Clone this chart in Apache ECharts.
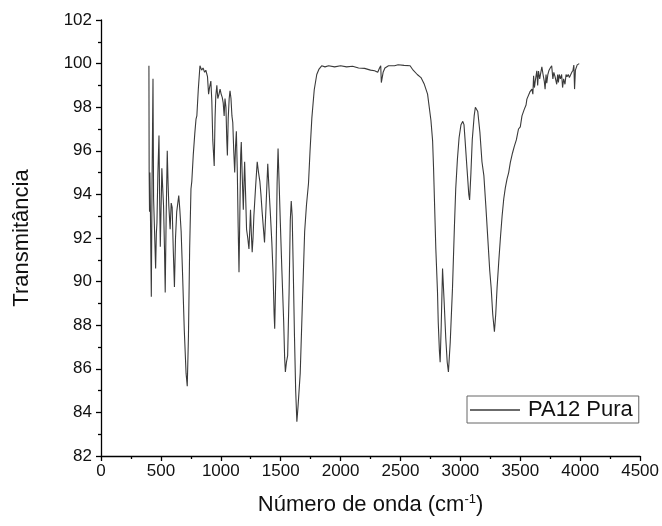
<!DOCTYPE html>
<html>
<head>
<meta charset="utf-8">
<script src="https://cdn.jsdelivr.net/npm/echarts@6/dist/echarts.min.js"></script>
<style>
html,body{margin:0;padding:0;background:#fff;}
#chart{width:662px;height:526px;}
</style>
</head>
<body>
<div id="chart"></div>
<script>
// Wavenumber (cm-1) and transmittance values
const wavenumber = [400,402,405,408,412,420,426,434,439,446,456,462,467,475,484,489,495,502,508,515,522,530,536,544,553,560,566,577,586,594,603,613,622,632,640,649,658,669,680,695,710,720,730,740,751,758,770,783,793,800,812,826,840,852,865,875,889,898,906,917,925,933,945,952,958,967,975,985,994,1003,1012,1020,1028,1035,1043,1050,1055,1062,1070,1077,1085,1093,1100,1108,1116,1123,1130,1138,1145,1152,1160,1166,1171,1178,1188,1194,1199,1207,1215,1225,1235,1242,1248,1255,1262,1269,1276,1290,1304,1315,1326,1335,1345,1355,1365,1378,1392,1402,1415,1426,1436,1445,1450,1460,1470,1478,1487,1497,1510,1525,1533,1539,1548,1558,1570,1580,1588,1596,1605,1615,1625,1635,1645,1663,1680,1700,1715,1732,1745,1760,1780,1801,1820,1842,1870,1900,1950,2000,2050,2100,2150,2200,2250,2284,2310,2325,2335,2340,2348,2355,2370,2400,2450,2480,2530,2580,2600,2640,2671,2699,2726,2740,2754,2768,2776,2795,2809,2815,2825,2831,2840,2851,2865,2878,2890,2900,2915,2934,2950,2961,2975,2989,3005,3020,3030,3039,3055,3070,3077,3088,3099,3115,3125,3135,3145,3163,3180,3196,3212,3229,3245,3257,3270,3284,3295,3306,3320,3334,3348,3362,3375,3389,3403,3417,3435,3450,3467,3485,3500,3514,3525,3533,3548,3555,3565,3580,3597,3605,3611,3618,3625,3638,3645,3652,3662,3670,3680,3690,3700,3707,3715,3721,3730,3740,3750,3762,3772,3780,3790,3804,3812,3818,3825,3835,3845,3853,3862,3873,3882,3890,3900,3910,3920,3930,3940,3947,3953,3960,3975,3985,3992];
const transmittance = [99.9,95.0,93.2,95.0,93.5,89.3,94.5,99.3,93.8,92.5,90.6,92.2,92.7,95.0,96.7,94.0,91.6,93.5,95.2,94.3,93.5,91.5,89.5,93.0,96.0,94.5,93.5,92.4,93.6,93.4,91.5,89.75,92.0,93.2,93.2,93.95,93.3,92.3,90.5,87.8,85.8,85.2,87.5,91.5,94.25,94.6,95.8,96.8,97.45,97.6,98.8,99.9,99.7,99.8,99.6,99.7,99.4,98.6,98.9,99.2,98.3,96.5,95.3,97.5,98.5,99.0,98.4,98.6,98.83,98.6,98.45,98.2,97.6,98.4,98.0,96.5,95.78,97.5,98.4,98.75,98.4,97.6,97.3,96.0,95.0,96.2,96.9,95.0,92.5,90.43,93.5,95.8,96.4,95.0,93.3,94.6,95.5,94.0,92.4,92.0,91.5,92.4,93.3,92.2,91.35,92.0,93.0,94.3,95.5,95.0,94.6,94.0,93.2,92.5,91.8,93.5,95.4,94.3,93.0,91.8,90.43,88.5,87.84,90.5,94.5,96.1,94.5,92.7,90.5,88.15,86.5,85.86,86.3,86.6,89.5,92.8,93.7,93.0,90.5,87.5,85.0,83.57,84.3,85.8,88.8,92.3,93.5,94.5,96.0,97.5,98.8,99.5,99.75,99.9,99.85,99.9,99.85,99.9,99.85,99.88,99.8,99.78,99.7,99.67,99.6,99.8,99.9,99.13,99.2,99.6,99.8,99.9,99.9,99.95,99.92,99.9,99.74,99.5,99.36,99.05,98.6,98.0,97.4,96.46,95.2,91.5,89.5,88.15,86.8,86.3,88.0,90.6,89.0,87.4,86.3,85.86,87.2,89.7,92.5,94.25,95.6,96.6,97.2,97.35,97.2,96.5,95.2,94.0,93.75,95.0,96.5,97.6,98.0,98.06,97.8,96.84,95.5,94.86,93.5,91.96,90.5,89.7,88.5,87.7,88.5,89.7,90.9,92.0,93.0,93.8,94.3,94.7,95.0,95.47,95.9,96.2,96.5,97.0,97.1,97.6,97.6,97.9,98.1,98.37,98.3,98.7,98.83,98.6,99.44,98.9,99.2,99.67,99.0,99.66,99.3,99.55,99.85,99.5,99.2,98.83,99.5,99.1,99.5,99.7,99.8,99.9,99.3,99.6,99.4,99.05,99.5,99.13,99.5,99.3,99.5,98.9,99.3,99.05,99.5,99.4,99.5,99.36,99.4,99.6,99.7,99.93,98.83,99.7,99.94,99.9,100.0];
const seriesName = 'PA12 Pura';
const xTicks = {min: 0, max: 4500, interval: 500};
const yTicks = {min: 82, max: 102, interval: 2};

const points = wavenumber.map((w, i) => [w, transmittance[i]]);
const font = '"Liberation Sans", Arial, sans-serif';

const chart = echarts.init(document.getElementById('chart'), null, {renderer: 'canvas'});
chart.setOption({
  animation: false,
  backgroundColor: '#ffffff',
  grid: {left: 101, right: 18, top: 20, bottom: 70, containLabel: false},
  legend: {
    left: 467, top: 396,
    padding: [3, 6, 2, 3],
    itemGap: 0,
    itemWidth: 50, itemHeight: 1.5,
    borderColor: '#666', borderWidth: 1,
    backgroundColor: '#fff',
    textStyle: {fontFamily: font, fontSize: 22, color: '#111', padding: [0, 0, 0, 3]},
    data: [{name: seriesName, icon: 'rect', itemStyle: {color: '#3a3a3a'}}]
  },
  xAxis: {
    type: 'value',
    min: xTicks.min, max: xTicks.max, interval: xTicks.interval,
    name: 'Número de onda (cm{sup|-1})',
    nameLocation: 'middle', nameGap: 37,
    nameTextStyle: {fontFamily: font, fontSize: 22, color: '#111',
      rich: {sup: {fontFamily: font, fontSize: 13, color: '#111', padding: [0, 0, 11, 0]}}},
    axisLine: {show: true, onZero: false, lineStyle: {color: '#000', width: 1.3}},
    axisTick: {show: true, inside: false, length: 5, lineStyle: {color: '#000', width: 1.3}},
    minorTick: {show: true, splitNumber: 2, length: 3, lineStyle: {color: '#000', width: 1.3}},
    splitLine: {show: false},
    axisLabel: {fontFamily: font, fontSize: 17, color: '#111', margin: 7,
      formatter: v => String(v)}
  },
  yAxis: {
    type: 'value',
    min: yTicks.min, max: yTicks.max, interval: yTicks.interval,
    name: 'Transmitância',
    nameLocation: 'middle', nameGap: 68, nameRotate: 90,
    nameTextStyle: {fontFamily: font, fontSize: 22, color: '#111'},
    axisLine: {show: true, onZero: false, lineStyle: {color: '#000', width: 1.3}},
    axisTick: {show: true, inside: false, length: 5, lineStyle: {color: '#000', width: 1.3}},
    minorTick: {show: true, splitNumber: 2, length: 3, lineStyle: {color: '#000', width: 1.3}},
    splitLine: {show: false},
    axisLabel: {fontFamily: font, fontSize: 17, color: '#111', margin: 9,
      formatter: v => String(v)}
  },
  series: [{
    name: seriesName,
    type: 'line',
    data: points,
    showSymbol: false,
    symbol: 'none',
    lineStyle: {color: '#3a3a3a', width: 1.1},
    itemStyle: {color: '#3a3a3a'},
    silent: true
  }]
});
</script>
</body>
</html>
